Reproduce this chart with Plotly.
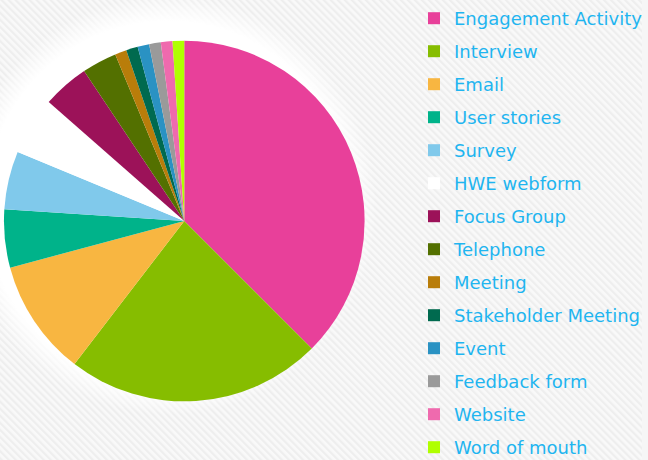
import base64
import plotly.graph_objects as go

# ---- data ----
categories = ["Engagement Activity", "Interview", "Email", "User stories", "Survey",
              "HWE webform", "Focus Group", "Telephone", "Meeting", "Stakeholder Meeting",
              "Event", "Feedback form", "Website", "Word of mouth"]
counts = [36, 22, 10, 5, 5, 5, 4, 3, 1, 1, 1, 1, 1, 1]
colors = ["#e8409a", "#86bd00", "#f8b641", "#00b38a", "#80c9eb", "#ffffff", "#9c1259",
          "#537000", "#b97d0a", "#006a4f", "#2a92c3", "#9a9a9a", "#ef6aae", "#b0ff00"]

W, H = 648, 460
CX, CY, R = 186, 221, 182

# background: subtle diagonal stripes with a soft white glow up-left of the pie
GX, GY = CX - 16, CY - 16
svg = f'''<svg xmlns="http://www.w3.org/2000/svg" width="{W}" height="{H}" viewBox="0 0 {W} {H}">
<defs>
<pattern id="p" width="5" height="5" patternUnits="userSpaceOnUse" patternTransform="rotate(-45)">
<rect width="5" height="5" fill="#f9f9f9"/>
<rect width="2.2" height="5" fill="#eeeeee"/>
</pattern>
<radialGradient id="g" cx="{GX}" cy="{GY}" r="{R+28}" gradientUnits="userSpaceOnUse">
<stop offset="0" stop-color="#ffffff" stop-opacity="1"/>
<stop offset="{(R+2)/(R+28):.3f}" stop-color="#ffffff" stop-opacity="1"/>
<stop offset="1" stop-color="#ffffff" stop-opacity="0"/>
</radialGradient>
</defs>
<rect width="{W}" height="{H}" fill="url(#p)"/>
<rect width="{W}" height="{H}" fill="url(#g)"/>
</svg>'''
bg_src = "data:image/svg+xml;base64," + base64.b64encode(svg.encode()).decode()

fig = go.Figure()
fig.add_trace(go.Pie(
    labels=categories, values=counts, sort=False, direction="clockwise", rotation=0,
    marker=dict(colors=colors, line=dict(width=0)),
    textinfo="none", hoverinfo="label+value+percent", showlegend=False,
    domain=dict(x=[(CX - R) / W, (CX + R) / W], y=[(H - CY - R) / H, (H - CY + R) / H]),
))

# legend entries (one group per category to control vertical spacing)
for cat, col in zip(categories, colors):
    fig.add_trace(go.Scatter(
        x=[None], y=[None], mode="markers", name=cat, legendgroup=cat,
        marker=dict(symbol="square", size=12, color=col, line=dict(width=0)),
        hoverinfo="skip",
    ))

fig.update_layout(
    width=W, height=H,
    margin=dict(l=0, r=0, t=0, b=0),
    paper_bgcolor="#f6f6f6", plot_bgcolor="rgba(0,0,0,0)",
    xaxis=dict(visible=False), yaxis=dict(visible=False),
    images=[dict(source=bg_src, xref="paper", yref="paper", x=0, y=1, sizex=1, sizey=1,
                 xanchor="left", yanchor="top", sizing="stretch", layer="below")],
    legend=dict(x=418 / W, y=1, xanchor="left", yanchor="top",
                font=dict(family="DejaVu Sans", size=18, color="#1fb5f0"),
                bgcolor="rgba(0,0,0,0)", tracegroupgap=6.6, traceorder="grouped",
                itemwidth=30, maxheight=700),
)

fig.write_html("out.html", config={"displayModeBar": False},
               post_script="document.body.style.margin='0';document.body.style.overflow='hidden';")
